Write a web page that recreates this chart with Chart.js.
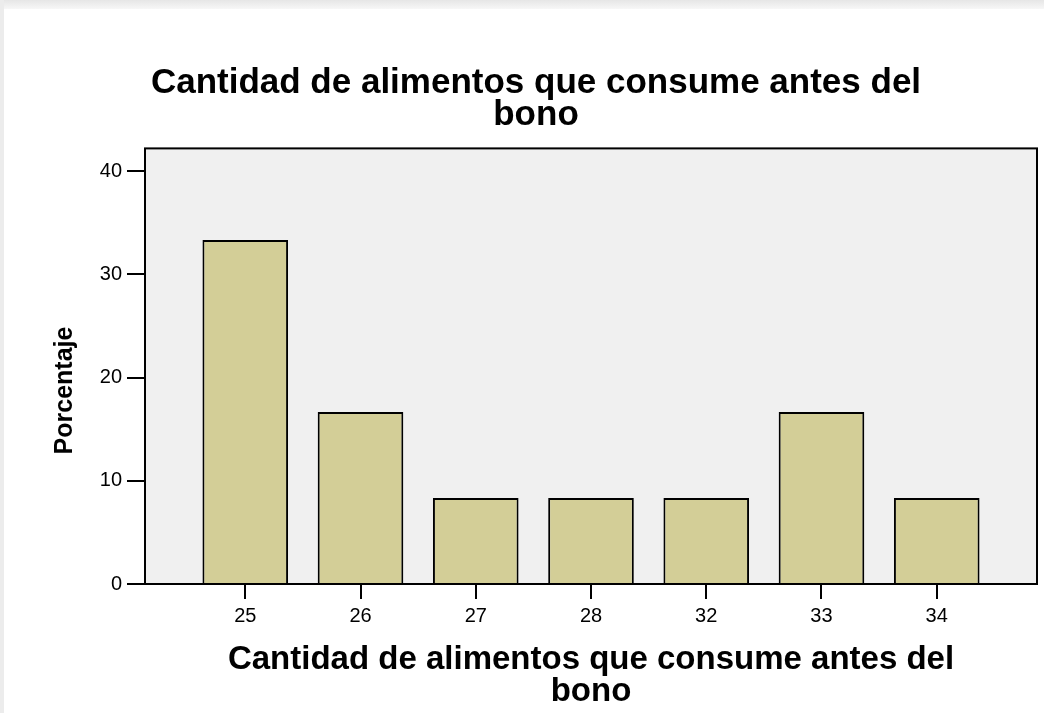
<!DOCTYPE html>
<html>
<head>
<meta charset="utf-8">
<script src="https://cdn.jsdelivr.net/npm/chart.js@4.4.1/dist/chart.umd.min.js"></script>
<style>
html,body{margin:0;padding:0;background:#fff;}
#marco{position:relative;width:1044px;height:713px;overflow:hidden;}
#franjaSup{position:absolute;left:0;top:0;width:1044px;height:9px;background:linear-gradient(#e6e6e6,#f7f7f7);}
#franjaIzq{position:absolute;left:0;top:0;width:4px;height:713px;background:#ececec;}
#contenedor{position:absolute;left:0;top:0;width:1044px;height:713px;}
</style>
</head>
<body>
<div id="marco">
  <div id="franjaSup"></div>
  <div id="franjaIzq"></div>
  <div id="contenedor"><canvas id="grafica"></canvas></div>
</div>
<script>
// datos (porcentaje sobre 12 casos)
var categorias = ['25', '26', '27', '28', '32', '33', '34'];
var porcentajes = [33.33, 16.67, 8.33, 8.33, 8.33, 16.67, 8.33];
var ticksY = [0, 10, 20, 30, 40];
var titulo = ['Cantidad de alimentos que consume antes del', 'bono'];

Chart.defaults.font.family = "'Liberation Sans', Arial, sans-serif";
Chart.defaults.color = '#000';

// fondo gris y marco negro del area del grafico
const marcoPlot = {
    id: 'marcoPlot',
    beforeDraw(chart){
        const {ctx, chartArea} = chart;
        ctx.save();
        ctx.fillStyle = '#f0f0f0';
        ctx.fillRect(chartArea.left, chartArea.top, chartArea.width, chartArea.height);
        ctx.restore();
    },
    afterDatasetsDraw(chart){
        const {ctx, chartArea} = chart;
        ctx.save();
        ctx.strokeStyle = '#000';
        ctx.lineWidth = 2;
        ctx.strokeRect(chartArea.left, chartArea.top, chartArea.width, chartArea.height);
        ctx.restore();
    }
};

const ctx = document.getElementById('grafica').getContext('2d');
const chart = new Chart(ctx, {
    type: 'bar',
    data: {
        datasets: [{
            data: porcentajes.map((v, i) => ({x: i, y: v})),
            backgroundColor: '#d3ce97',
            borderColor: '#000',
            borderWidth: 2,
            categoryPercentage: 1,
            barPercentage: 0.743
        }]
    },
    options: {
        responsive: true,
        maintainAspectRatio: false,
        animation: false,
        layout: { padding: {left: 35, right: 7, top: 0, bottom: 0} },
        plugins: {
            legend: { display: false },
            tooltip: { enabled: false },
            title: {
                display: true,
                text: titulo,
                color: '#000',
                font: { size: 35, weight: 'bold', lineHeight: 0.92 },
                padding: { top: 67, bottom: 17 }
            }
        },
        scales: {
            x: {
                type: 'linear',
                min: -0.87,
                max: 6.87,
                offset: false,
                afterBuildTicks: (axis) => { axis.ticks = categorias.map((c, i) => ({value: i})); },
                afterFit: (scale) => { scale.height = 129; },
                ticks: {
                    callback: (v) => categorias[v],
                    font: { size: 20 },
                    padding: 5,
                    color: '#000'
                },
                grid: { offset: false, drawOnChartArea: false, drawTicks: true, tickLength: 15, color: '#000', lineWidth: 2 },
                border: { display: false },
                title: {
                    display: true,
                    text: titulo,
                    color: '#000',
                    font: { size: 33, weight: 'bold', lineHeight: 0.97 },
                    padding: { top: 0, bottom: 5 }
                }
            },
            y: {
                min: 0,
                max: 42.2,
                afterBuildTicks: (axis) => { axis.ticks = ticksY.map(v => ({value: v})); },
                afterFit: (scale) => { scale.width = 110; },
                ticks: { font: { size: 20 }, padding: 5, color: '#000' },
                grid: { drawOnChartArea: false, drawTicks: true, tickLength: 18, color: '#000', lineWidth: 2 },
                border: { display: false },
                title: {
                    display: true,
                    text: 'Porcentaje\u00a0\u00a0\u00a0\u00a0\u00a0\u00a0\u00a0',
                    color: '#000',
                    font: { size: 25, weight: 'bold', lineHeight: 1.2 },
                    padding: { top: 15, bottom: 0 }
                }
            }
        }
    },
    plugins: [marcoPlot]
});
</script>
</body>
</html>
